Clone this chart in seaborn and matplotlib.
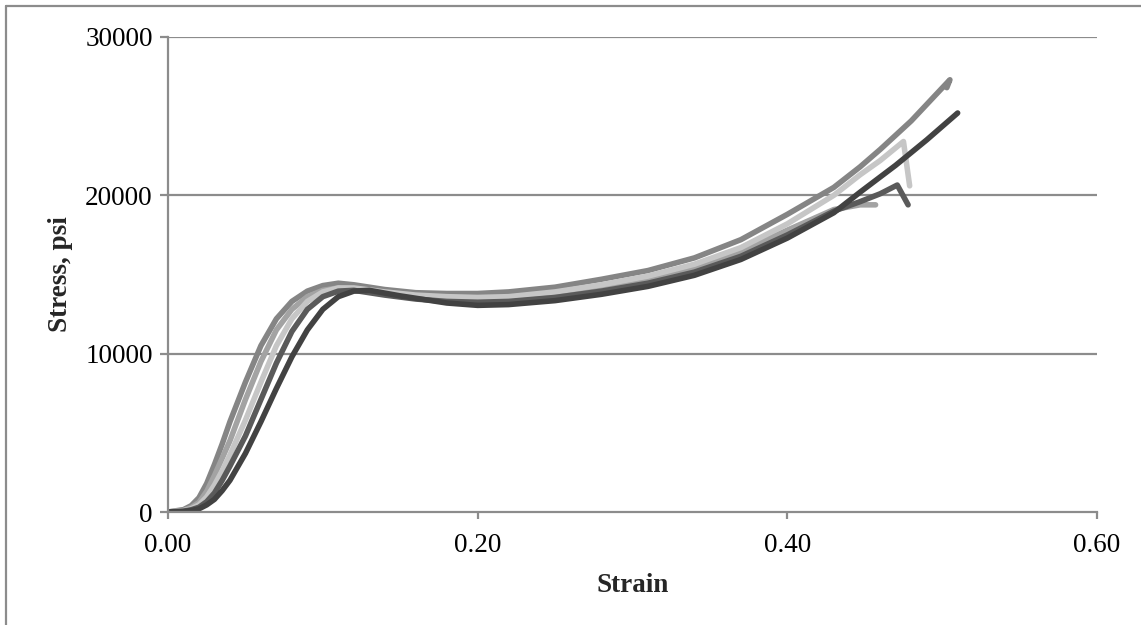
import numpy as np
import pandas as pd
import matplotlib
matplotlib.use("Agg")
import matplotlib.pyplot as plt
from matplotlib.lines import Line2D
import seaborn as sns

# Stress-strain records for each specimen (strain, in/in; stress, psi)
strain_a = [0.0, 0.01, 0.015, 0.02, 0.025, 0.03, 0.035, 0.04, 0.05, 0.06, 0.07, 0.08, 0.09,
            0.10, 0.11, 0.12, 0.14, 0.16, 0.18, 0.20, 0.22, 0.25, 0.28, 0.31, 0.34, 0.37,
            0.40, 0.43, 0.447, 0.46, 0.48, 0.505, 0.503]
stress_a = [0, 150, 400, 900, 1800, 3000, 4300, 5700, 8200, 10500, 12200, 13300, 13950,
            14300, 14450, 14350, 14050, 13850, 13800, 13800, 13900, 14200, 14700, 15250, 16050, 17200,
            18800, 20500, 21800, 22900, 24700, 27300, 26800]

strain_e = [0.0, 0.01, 0.015, 0.02, 0.025, 0.03, 0.035, 0.04, 0.05, 0.06, 0.07, 0.08, 0.09,
            0.10, 0.11, 0.12, 0.14, 0.16, 0.18, 0.20, 0.22, 0.25, 0.28, 0.31, 0.34, 0.37,
            0.40, 0.43, 0.447, 0.457]
stress_e = [0, 100, 280, 600, 1300, 2300, 3400, 4500, 7100, 9500, 11500, 12800, 13600,
            14000, 14150, 14100, 13850, 13650, 13500, 13450, 13500, 13800, 14250, 14750, 15450, 16450,
            17800, 19100, 19400, 19400]

strain_c = [0.0, 0.01, 0.015, 0.02, 0.025, 0.03, 0.035, 0.04, 0.05, 0.06, 0.07, 0.08, 0.09,
            0.10, 0.11, 0.12, 0.14, 0.16, 0.18, 0.20, 0.22, 0.25, 0.28, 0.31, 0.34, 0.37,
            0.40, 0.43, 0.447, 0.46, 0.475, 0.479]
stress_c = [0, 80, 200, 450, 950, 1700, 2600, 3600, 5800, 8200, 10500, 12200, 13300,
            13900, 14150, 14150, 13900, 13700, 13600, 13550, 13600, 13900, 14350, 14900, 15650, 16700,
            18200, 20000, 21300, 22200, 23400, 20600]

strain_d = [0.0, 0.01, 0.015, 0.02, 0.025, 0.03, 0.035, 0.04, 0.05, 0.06, 0.07, 0.08, 0.09,
            0.10, 0.11, 0.12, 0.14, 0.16, 0.18, 0.20, 0.22, 0.25, 0.28, 0.31, 0.34, 0.37,
            0.40, 0.43, 0.447, 0.46, 0.471, 0.478]
stress_d = [0, 50, 140, 300, 650, 1200, 2000, 2900, 4800, 7100, 9400, 11400, 12800,
            13600, 13950, 14000, 13700, 13450, 13300, 13250, 13300, 13550, 13950, 14450, 15150, 16150,
            17500, 19000, 19600, 20100, 20650, 19400]

strain_b = [0.0, 0.01, 0.015, 0.02, 0.025, 0.03, 0.035, 0.04, 0.05, 0.06, 0.07, 0.08, 0.09,
            0.10, 0.11, 0.12, 0.13, 0.15, 0.18, 0.20, 0.22, 0.25, 0.28, 0.31, 0.34, 0.37,
            0.40, 0.43, 0.447, 0.47, 0.49, 0.51]
stress_b = [0, 30, 90, 200, 450, 800, 1350, 2000, 3700, 5700, 7800, 9800, 11500,
            12800, 13600, 13950, 14000, 13650, 13200, 13050, 13100, 13350, 13750, 14250, 14950, 15950,
            17300, 18900, 20200, 21900, 23500, 25200]

specimens = ["A", "E", "C", "D", "B"]
series = {"A": (strain_a, stress_a), "E": (strain_e, stress_e), "C": (strain_c, stress_c),
          "D": (strain_d, stress_d), "B": (strain_b, stress_b)}
colors = {"A": "#858585", "E": "#a3a3a3", "C": "#c6c6c6", "D": "#5a5a5a", "B": "#424242"}

x_ticks = [0.0, 0.2, 0.4, 0.6]
x_tick_labels = ["0.00", "0.20", "0.40", "0.60"]
y_ticks = [0, 10000, 20000, 30000]
y_tick_labels = ["0", "10000", "20000", "30000"]

frames = []
for name in specimens:
    sx, sy = series[name]
    frames.append(pd.DataFrame({"strain": sx, "stress": sy, "specimen": name}))
df = pd.concat(frames, ignore_index=True)

sns.set_theme(style="white")
plt.rcParams["font.family"] = ["Liberation Serif", "DejaVu Serif"]

fig = plt.figure(figsize=(11.41, 6.25), dpi=100)
ax = fig.add_axes([168 / 1141, 1 - 512 / 625, 929 / 1141, 475 / 625])

grid_color = "#8c8c8c"
for yv in y_ticks[1:]:
    ax.axhline(yv, color=grid_color, lw=1.6, zorder=0)

sns.lineplot(data=df, x="strain", y="stress", hue="specimen", palette=colors,
             hue_order=specimens, sort=False, estimator=None, units="specimen",
             linewidth=4.0, legend=False, ax=ax, solid_capstyle="round",
             solid_joinstyle="round")

ax.set_xlim(0, 0.6)
ax.set_ylim(0, 30000)
ax.set_xticks(x_ticks)
ax.set_xticklabels(x_tick_labels)
ax.set_yticks(y_ticks)
ax.set_yticklabels(y_tick_labels)

for side in ["top", "right"]:
    ax.spines[side].set_visible(False)
for side in ["left", "bottom"]:
    ax.spines[side].set_color(grid_color)
    ax.spines[side].set_linewidth(1.6)

ax.tick_params(axis="both", which="major", direction="out", colors=grid_color,
               labelcolor="black", labelsize=19.5, width=1.6)
ax.tick_params(axis="y", length=6, pad=5)
ax.tick_params(axis="x", length=5, pad=10)
ax.tick_params(left=True, bottom=True)

ax.set_xlabel("Strain", fontsize=19.5, fontweight="bold", labelpad=11)
ax.set_ylabel("Stress, psi", fontsize=19.5, fontweight="bold")
ax.yaxis.set_label_coords(-0.102, 0.5)

# Chart area frame
fig.add_artist(Line2D([6 / 1141, 6 / 1141], [0, 1 - 6 / 625], transform=fig.transFigure,
                      color=grid_color, lw=1.6))
fig.add_artist(Line2D([6 / 1141, 1], [1 - 6 / 625, 1 - 6 / 625], transform=fig.transFigure,
                      color=grid_color, lw=1.6))

fig.savefig("out.png", dpi=100, facecolor="white")
